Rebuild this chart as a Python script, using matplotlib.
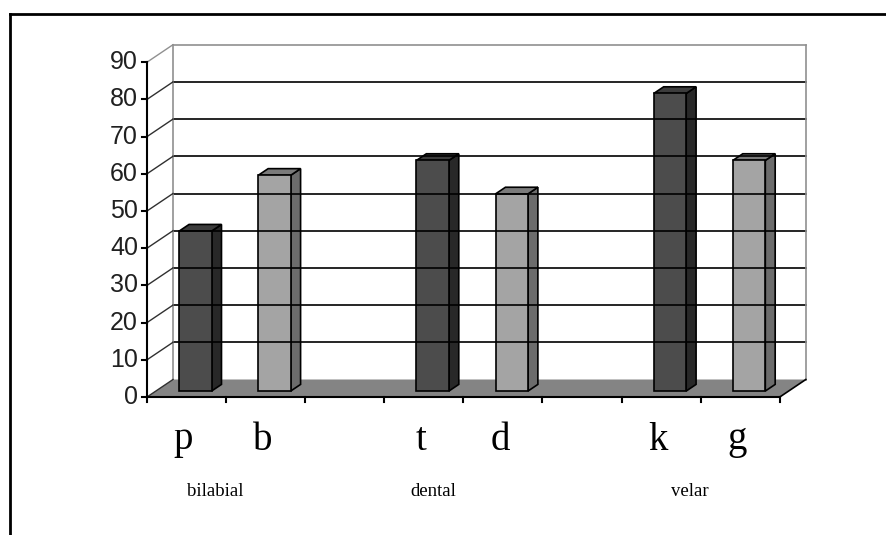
import numpy as np
import matplotlib
matplotlib.use("Agg")
import matplotlib.pyplot as plt
from matplotlib.patches import Polygon

# voice onset data, one bar per stop consonant (blank slots between places)
consonants = ["p", "b", "", "t", "d", "", "k", "g"]
values = [43, 58, None, 62, 53, None, 80, 62]
voiced = [False, True, False, False, True, False, False, True]
places = ["bilabial", "dental", "velar"]
yticks = list(range(0, 100, 10))

# oblique 3d layout in pixel units
X0, Y0 = 147.0, 397.0        # front origin
CW = 79.1                    # category width
UH = 3.72                    # pixels per unit
DX, DY = 26.0, -17.5         # depth offset (front -> back wall)
VMAX = 90
NCAT = len(consonants)


def proj(c, v, d):
    return (X0 + c * CW + d * DX, Y0 - v * UH + d * DY)


fig = plt.figure(figsize=(8.86, 5.35), dpi=100)
ax = fig.add_axes([0, 0, 1, 1])
ax.set_xlim(0, 886)
ax.set_ylim(535, 0)
ax.axis("off")

# outer frame (top and left edges)
ax.plot([10, 886], [14, 14], color="black", lw=2)
ax.plot([10, 10], [14, 535], color="black", lw=2)

# back wall gridlines
for v in yticks[1:-1]:
    xa, ya = proj(0, v, 1)
    xb, yb = proj(NCAT, v, 1)
    ax.plot([xa, xb], [ya, yb], color="black", lw=1.2)
# back wall border
for pts in ([proj(0, 0, 1), proj(0, VMAX, 1)],
            [proj(0, VMAX, 1), proj(NCAT, VMAX, 1)],
            [proj(NCAT, VMAX, 1), proj(NCAT, 0, 1)]):
    ax.plot([p[0] for p in pts], [p[1] for p in pts], color="#909090", lw=1.2)
# side wall lines
for v in yticks:
    xa, ya = proj(0, v, 0)
    xb, yb = proj(0, v, 1)
    ax.plot([xa, xb], [ya, yb], color="#303030" if v < VMAX else "#909090", lw=1)

# floor
floor = [proj(0, 0, 0), proj(NCAT, 0, 0), proj(NCAT, 0, 1), proj(0, 0, 1)]
ax.add_patch(Polygon(floor, closed=True, facecolor="#848484", edgecolor="none"))
ax.plot([floor[1][0], floor[2][0]], [floor[1][1], floor[2][1]], color="black", lw=1.2)

# value axis
ax.plot([X0, X0], [Y0, Y0 - VMAX * UH], color="black", lw=1.5)
for v in yticks:
    y = Y0 - v * UH
    ax.plot([X0 - 5, X0], [y, y], color="black", lw=1.5)
    ax.text(X0 - 9, y, str(v), ha="right", va="center", fontsize=18,
            family="Liberation Sans", color="#202020")

# category axis
ax.plot([X0, X0 + NCAT * CW], [Y0, Y0], color="black", lw=1.5)
for c in range(NCAT + 1):
    ax.plot([X0 + c * CW] * 2, [Y0, Y0 + 5], color="black", lw=1.5)

# bars
HW = 0.205
D0, D1 = 0.34, 0.72
for i, (v, vo) in enumerate(zip(values, voiced)):
    if v is None:
        continue
    if vo:
        front, side, top = "#a4a4a4", "#6c6c6c", "#7a7a7a"
    else:
        front, side, top = "#4c4c4c", "#282828", "#3c3c3c"
    c0, c1 = i + 0.5 - HW, i + 0.5 + HW
    side_poly = [proj(c1, 0, D0), proj(c1, 0, D1), proj(c1, v, D1), proj(c1, v, D0)]
    top_poly = [proj(c0, v, D0), proj(c1, v, D0), proj(c1, v, D1), proj(c0, v, D1)]
    front_poly = [proj(c0, 0, D0), proj(c1, 0, D0), proj(c1, v, D0), proj(c0, v, D0)]
    for poly, col in ((side_poly, side), (top_poly, top), (front_poly, front)):
        ax.add_patch(Polygon(poly, closed=True, facecolor=col,
                             edgecolor="black", lw=1.2, joinstyle="miter"))

# consonant labels
for i, lab in enumerate(consonants):
    if lab:
        ax.text(X0 + (i + 0.5) * CW - 3, 440, lab, ha="center", va="center",
                fontsize=28, family="Liberation Serif")

# place of articulation labels
for lab, x in zip(places, [215, 433, 690]):
    ax.text(x, 491, lab, ha="center", va="center", fontsize=13.5,
            family="Liberation Serif")

fig.savefig("out.png", dpi=100)
